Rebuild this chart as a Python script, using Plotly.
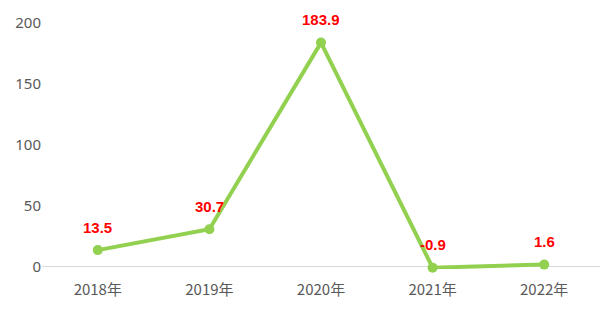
import plotly.graph_objects as go

categories = ["2018年", "2019年", "2020年", "2021年", "2022年"]
values = [13.5, 30.7, 183.9, -0.9, 1.6]
labels = ["13.5", "30.7", "183.9", "-0.9", "1.6"]
y_ticks = [0, 50, 100, 150, 200]

green = "#92D050"

fig = go.Figure()
fig.add_trace(go.Scatter(
    x=categories, y=values, mode="lines+markers",
    line=dict(color=green, width=4),
    marker=dict(color=green, size=10, symbol="circle"),
    cliponaxis=False, showlegend=False,
))

for c, v, t in zip(categories, values, labels):
    fig.add_annotation(
        x=c, y=v, text="<b>" + t + "</b>", showarrow=False, yshift=23,
        font=dict(family="Liberation Sans, Arial, sans-serif", size=15, color="#FF0000"),
    )

fig.update_layout(
    width=600, height=319,
    margin=dict(l=42, r=0, t=23, b=50),
    paper_bgcolor="white", plot_bgcolor="white",
    font=dict(family="Noto Sans CJK SC, sans-serif", size=14, color="#595959"),
)
fig.update_xaxes(
    type="category", range=[-0.5, 4.5], showgrid=False, showline=False, zeroline=False,
    ticks="", ticklabelstandoff=10, tickfont=dict(size=15, color="#595959"),
)
fig.update_yaxes(
    range=[-2, 200], tickvals=y_ticks, showgrid=False, showline=False,
    zeroline=True, zerolinecolor="#D9D9D9", zerolinewidth=1,
    ticks="", tickfont=dict(family="Noto Sans, sans-serif", size=15, color="#595959"),
)

fig.write_html("out.html")
